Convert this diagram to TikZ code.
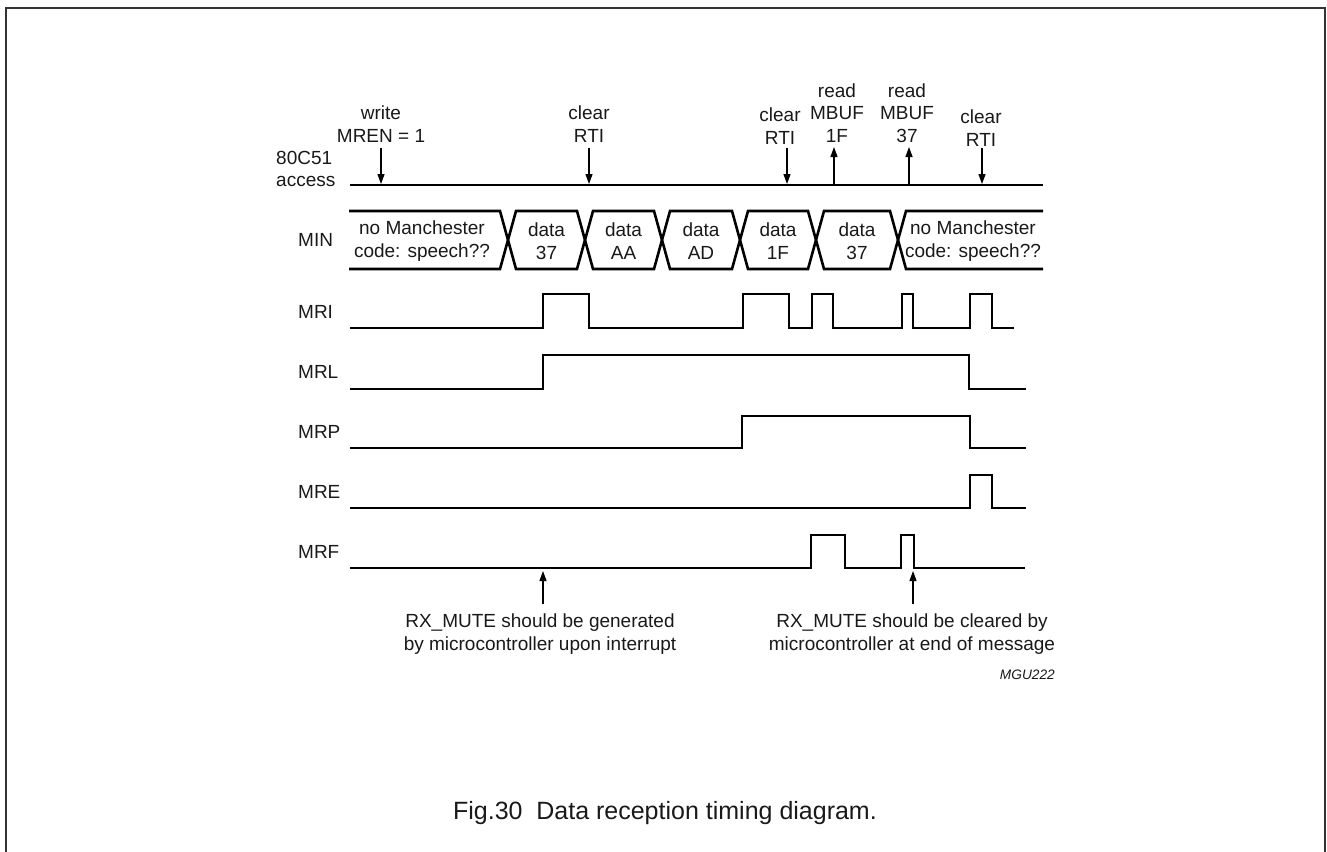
\documentclass[tikz,border=0pt]{standalone}
\usepackage{fontspec}
\setmainfont{Liberation Sans}
\usetikzlibrary{arrows.meta}
\begin{document}
\begin{tikzpicture}[x=1pt,y=-1pt,
  sig/.style={line width=2.6pt, line join=miter, color=black},
  frame/.style={line width=2pt, color=black!80},
  lab/.style={font=\fontsize{19}{22.5}\selectfont, text=black!90, inner sep=0pt},
  ctr/.style={lab, align=center},
  lft/.style={lab, align=left, anchor=west},
  arr/.style={line width=1.2pt, color=black, -{Triangle[length=10pt,width=7pt]}},
  mgu/.style={font=\fontsize{13.7}{16}\selectfont\itshape, text=black!90, inner sep=0pt, anchor=east},
  figcaption/.style={font=\fontsize{25}{29}\selectfont, text=black!90, inner sep=0pt}
]
\useasboundingbox (0,0) rectangle (1327,851);
\draw[frame] (6,860) -- (6,8) -- (1325,8) -- (1325,860);

% ---- 80C51 access line and labels
\node[lft] (acc) at (276,169) {80C51\\access};
\draw[sig] (350,185) -- (1043,185);

\node[ctr] (lw) at (381,124) {write\\MREN = 1};
\node[ctr] (lc1) at (589,124) {clear\\RTI};
\node[ctr] (lc2) at (780,126) {clear\\RTI};
\node[ctr] (lr1) at (837,113) {read\\MBUF\\1F};
\node[ctr] (lr2) at (907,113) {read\\MBUF\\37};
\node[ctr] (lc3) at (981,128) {clear\\RTI};

\coordinate (w1) at (381,148); \coordinate (w2) at (381,184);
\coordinate (c1a) at (589,148); \coordinate (c1b) at (589,184);
\coordinate (c2a) at (787,148); \coordinate (c2b) at (787,184);
\coordinate (r1a) at (834,185); \coordinate (r1b) at (834,147);
\coordinate (r2a) at (909,185); \coordinate (r2b) at (909,147);
\coordinate (c3a) at (982,148); \coordinate (c3b) at (982,184);
\draw[arr] (w1) -- (w2);
\draw[arr] (c1a) -- (c1b);
\draw[arr] (c2a) -- (c2b);
\draw[arr] (r1a) -- (r1b);
\draw[arr] (r2a) -- (r2b);
\draw[arr] (c3a) -- (c3b);

% ---- MIN bus
\node[lft] (nmin) at (298,240) {MIN};
\draw[sig] (349,211) -- (500,211) -- (516,269) -- (577,269) -- (593,211) -- (654,211) -- (670,269) -- (732,269) -- (748,211) -- (808,211) -- (824,269) -- (890,269) -- (906,211) -- (1043,211);
\draw[sig] (349,269) -- (500,269) -- (516,211) -- (577,211) -- (593,269) -- (654,269) -- (670,211) -- (732,211) -- (748,269) -- (808,269) -- (824,211) -- (890,211) -- (906,269) -- (1043,269);
\node[ctr] (b1) at (422,241) {no Manchester\\code: speech??};
\node[ctr] (b2) at (546.5,241) {data\\37};
\node[ctr] (b3) at (623.5,241) {data\\AA};
\node[ctr] (b4) at (701,241) {data\\AD};
\node[ctr] (b5) at (778,241) {data\\1F};
\node[ctr] (b6) at (857,241) {data\\37};
\node[ctr] (b7) at (973,241) {no Manchester\\code: speech??};

% ---- MRI
\node[lft] (nmri) at (298,312) {MRI};
\draw[sig] (350,328) -- (543,328) -- (543,294) -- (589,294) -- (589,328) -- (743,328) -- (743,294) -- (789,294) -- (789,328) -- (812,328) -- (812,294) -- (833,294) -- (833,328) -- (902,328) -- (902,294) -- (913,294) -- (913,328) -- (970,328) -- (970,294) -- (992,294) -- (992,328) -- (1014,328);

% ---- MRL
\node[lft] (nmrl) at (298,372) {MRL};
\draw[sig] (350,389) -- (543,389) -- (543,355) -- (969,355) -- (969,389) -- (1026,389);

% ---- MRP
\node[lft] (nmrp) at (298,432) {MRP};
\draw[sig] (350,448) -- (742,448) -- (742,416) -- (970,416) -- (970,448) -- (1026,448);

% ---- MRE
\node[lft] (nmre) at (298,492) {MRE};
\draw[sig] (350,508) -- (970,508) -- (970,475) -- (992,475) -- (992,508) -- (1026,508);

% ---- MRF
\node[lft] (nmrf) at (298,552) {MRF};
\draw[sig] (350,568) -- (811,568) -- (811,535) -- (845,535) -- (845,568) -- (901,568) -- (901,535) -- (914,535) -- (914,568) -- (1025,568);

% ---- bottom notes
\coordinate (m1a) at (543,604); \coordinate (m1b) at (543,571);
\coordinate (m2a) at (913,604); \coordinate (m2b) at (913,571);
\draw[arr] (m1a) -- (m1b);
\draw[arr] (m2a) -- (m2b);
\node[ctr] (t1) at (540,634) {RX\_MUTE should be generated\\by microcontroller upon interrupt};
\node[ctr] (t2) at (912,634) {RX\_MUTE should be cleared by\\microcontroller at end of message};
\node[mgu] (code) at (1055,675) {MGU222};

\node[figcaption] (caption) at (665,813) {Fig.30\hspace{0.55em}Data reception timing diagram.};
\end{tikzpicture}
\end{document}
